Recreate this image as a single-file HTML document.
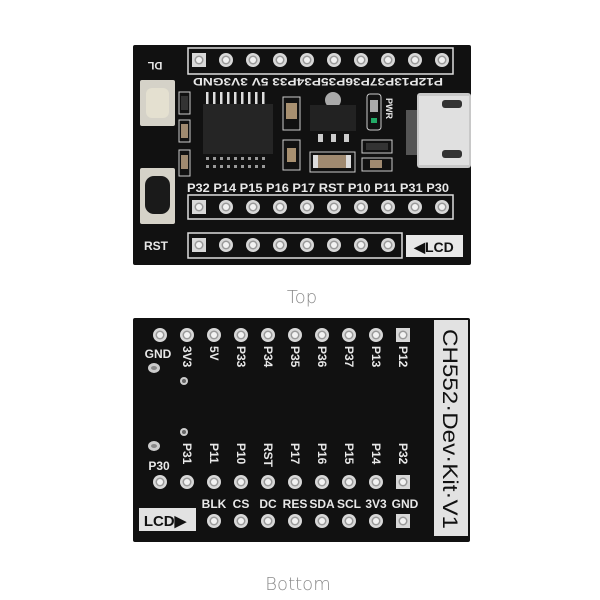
<!DOCTYPE html>
<html><head><meta charset="utf-8"><style>
html,body{margin:0;padding:0;background:#fff;width:600px;height:600px;overflow:hidden}
svg{display:block}
.s{font-family:"Liberation Sans",sans-serif;font-weight:bold;fill:#e8e8e8}
</style></head><body>
<svg width="600" height="600" viewBox="0 0 600 600" xmlns="http://www.w3.org/2000/svg">
<defs>
<g id="pad"><circle r="7" fill="#d8d8d8"/><circle r="4.5" fill="#9a9a9a"/><circle r="3" fill="#f2f2f2"/></g>
<g id="sq"><rect x="-7" y="-7" width="14" height="14" fill="#d8d8d8"/><circle r="4.5" fill="#9a9a9a"/><circle r="3" fill="#f2f2f2"/></g>
</defs>
<!-- TOP BOARD -->
<rect x="133" y="45" width="338" height="220" rx="2" fill="#111"/>
<rect x="188" y="48" width="265" height="26" fill="none" stroke="#ddd" stroke-width="1.5"/>
<rect x="188" y="195" width="265" height="24" fill="none" stroke="#ddd" stroke-width="1.5"/>
<rect x="188" y="233" width="214" height="25" fill="none" stroke="#ddd" stroke-width="1.5"/>
<rect x="406" y="235" width="57" height="22" fill="#e8e8e8"/>
<text x="434" y="252" text-anchor="middle" class="s" style="fill:#111;font-size:14px">◀LCD</text>
<use href="#sq" x="199" y="60"/>
<use href="#pad" x="226" y="60"/><use href="#pad" x="253" y="60"/><use href="#pad" x="280" y="60"/><use href="#pad" x="307" y="60"/><use href="#pad" x="334" y="60"/><use href="#pad" x="361" y="60"/><use href="#pad" x="388" y="60"/><use href="#pad" x="415" y="60"/><use href="#pad" x="442" y="60"/>
<use href="#sq" x="199" y="207"/>
<use href="#pad" x="226" y="207"/><use href="#pad" x="253" y="207"/><use href="#pad" x="280" y="207"/><use href="#pad" x="307" y="207"/><use href="#pad" x="334" y="207"/><use href="#pad" x="361" y="207"/><use href="#pad" x="388" y="207"/><use href="#pad" x="415" y="207"/><use href="#pad" x="442" y="207"/>
<use href="#sq" x="199" y="245"/>
<use href="#pad" x="226" y="245"/><use href="#pad" x="253" y="245"/><use href="#pad" x="280" y="245"/><use href="#pad" x="307" y="245"/><use href="#pad" x="334" y="245"/><use href="#pad" x="361" y="245"/><use href="#pad" x="388" y="245"/>
<text class="s" transform="translate(318,78) rotate(180)" text-anchor="middle" style="font-size:11px" textLength="250" lengthAdjust="spacingAndGlyphs">P12P13P37P36P35P34P33  5V 3V3GND</text>
<text x="318" y="192" class="s" text-anchor="middle" style="font-size:11.5px" textLength="262" lengthAdjust="spacingAndGlyphs">P32 P14 P15 P16 P17 RST P10 P11 P31 P30</text>
<text class="s" transform="translate(155,62) rotate(180)" text-anchor="middle" style="font-size:11px">DL</text>
<text x="156" y="250" class="s" text-anchor="middle" style="font-size:12px">RST</text>
<!-- buttons -->
<rect x="140" y="80" width="35" height="46" rx="2" fill="#d5d2c8"/>
<rect x="146" y="88" width="23" height="30" rx="6" fill="#e4e0d0"/>
<rect x="140" y="168" width="35" height="56" rx="2" fill="#d5d2c8"/>
<rect x="145" y="176" width="25" height="38" rx="9" fill="#1a1a1a"/>
<!-- small caps left -->
<rect x="179" y="92" width="11" height="22" fill="none" stroke="#ccc"/><rect x="181" y="96" width="7" height="14" fill="#333"/>
<rect x="179" y="120" width="11" height="22" fill="none" stroke="#ccc"/><rect x="181" y="124" width="7" height="14" fill="#a08a70"/>
<rect x="179" y="150" width="11" height="26" fill="none" stroke="#ccc"/><rect x="181" y="155" width="7" height="14" fill="#a08a70"/>
<!-- chip -->
<g fill="#ddd"><rect x="206" y="92" width="2.5" height="14"/><rect x="213" y="92" width="2.5" height="14"/><rect x="220" y="92" width="2.5" height="14"/><rect x="227" y="92" width="2.5" height="14"/><rect x="234" y="92" width="2.5" height="14"/><rect x="241" y="92" width="2.5" height="14"/><rect x="248" y="92" width="2.5" height="14"/><rect x="255" y="92" width="2.5" height="14"/><rect x="262" y="92" width="2.5" height="14"/></g>
<rect x="203" y="104" width="70" height="50" fill="#252525"/>
<g fill="#999"><rect x="206" y="157" width="3" height="3"/><rect x="213" y="157" width="3" height="3"/><rect x="220" y="157" width="3" height="3"/><rect x="227" y="157" width="3" height="3"/><rect x="234" y="157" width="3" height="3"/><rect x="241" y="157" width="3" height="3"/><rect x="248" y="157" width="3" height="3"/><rect x="255" y="157" width="3" height="3"/><rect x="262" y="157" width="3" height="3"/>
<rect x="206" y="165" width="3" height="3"/><rect x="213" y="165" width="3" height="3"/><rect x="220" y="165" width="3" height="3"/><rect x="227" y="165" width="3" height="3"/><rect x="234" y="165" width="3" height="3"/><rect x="241" y="165" width="3" height="3"/><rect x="248" y="165" width="3" height="3"/><rect x="255" y="165" width="3" height="3"/><rect x="262" y="165" width="3" height="3"/></g>
<!-- caps middle -->
<rect x="283" y="97" width="17" height="33" fill="none" stroke="#ccc"/><rect x="286" y="103" width="11" height="16" fill="#a89070"/>
<rect x="283" y="140" width="17" height="30" fill="none" stroke="#ccc"/><rect x="287" y="148" width="9" height="14" fill="#a89070"/>
<!-- regulator -->
<circle cx="333" cy="100" r="8" fill="#aaa"/>
<rect x="310" y="105" width="46" height="26" fill="#222"/>
<rect x="318" y="134" width="5" height="8" fill="#ccc"/><rect x="331" y="134" width="5" height="8" fill="#ccc"/><rect x="344" y="134" width="5" height="8" fill="#ccc"/>
<rect x="310" y="152" width="45" height="20" fill="none" stroke="#ccc"/><rect x="318" y="155" width="28" height="13" fill="#a08a70"/><rect x="313" y="155" width="5" height="13" fill="#ddd"/><rect x="346" y="155" width="5" height="13" fill="#ddd"/>
<!-- LED -->
<rect x="367" y="94" width="14" height="36" rx="3" fill="none" stroke="#ccc"/><rect x="370" y="100" width="8" height="12" fill="#aaa"/><rect x="371" y="118" width="6" height="5" fill="#2a6"/>
<text class="s" transform="translate(386,98) rotate(90)" style="font-size:9px">PWR</text>
<rect x="362" y="140" width="30" height="13" fill="none" stroke="#ccc"/><rect x="366" y="143" width="22" height="7" fill="#333"/>
<rect x="362" y="158" width="30" height="13" fill="none" stroke="#ccc"/><rect x="370" y="160" width="12" height="8" fill="#a08a70"/>
<!-- USB -->
<rect x="406" y="110" width="12" height="45" fill="#555"/>
<rect x="417" y="93" width="54" height="75" rx="3" fill="#c8c8c8"/>
<rect x="419" y="96" width="50" height="69" fill="#e0e0e0"/>
<rect x="442" y="100" width="20" height="8" rx="3" fill="#333"/>
<rect x="442" y="150" width="20" height="8" rx="3" fill="#333"/>

<text x="302" y="303" text-anchor="middle" style="font-family:'DejaVu Sans','Liberation Sans',sans-serif;font-size:18px;fill:#8a8a8a;font-weight:300">Top</text>

<!-- BOTTOM BOARD -->
<rect x="133" y="318" width="337" height="224" rx="2" fill="#111"/>
<rect x="434" y="320" width="34" height="216" fill="#e2e2e2"/>
<text class="s" transform="translate(443,429) rotate(90)" text-anchor="middle" style="font-size:21px;fill:#111;font-weight:normal" textLength="200" lengthAdjust="spacingAndGlyphs">CH552·Dev·Kit·V1</text>
<rect x="139" y="508" width="57" height="23" fill="#e2e2e2"/>
<text x="165" y="526" text-anchor="middle" class="s" style="font-size:15px;fill:#111">LCD▶</text>
<use href="#pad" x="160" y="335"/><use href="#pad" x="187" y="335"/><use href="#pad" x="214" y="335"/><use href="#pad" x="241" y="335"/><use href="#pad" x="268" y="335"/><use href="#pad" x="295" y="335"/><use href="#pad" x="322" y="335"/><use href="#pad" x="349" y="335"/><use href="#pad" x="376" y="335"/><use href="#sq" x="403" y="335"/>
<use href="#pad" x="160" y="482"/><use href="#pad" x="187" y="482"/><use href="#pad" x="214" y="482"/><use href="#pad" x="241" y="482"/><use href="#pad" x="268" y="482"/><use href="#pad" x="295" y="482"/><use href="#pad" x="322" y="482"/><use href="#pad" x="349" y="482"/><use href="#pad" x="376" y="482"/><use href="#sq" x="403" y="482"/>
<use href="#pad" x="214" y="521"/><use href="#pad" x="241" y="521"/><use href="#pad" x="268" y="521"/><use href="#pad" x="295" y="521"/><use href="#pad" x="322" y="521"/><use href="#pad" x="349" y="521"/><use href="#pad" x="376" y="521"/><use href="#sq" x="403" y="521"/>
<g class="s" style="font-size:12px">
<text x="158" y="358" text-anchor="middle">GND</text>
<text transform="translate(183,346) rotate(90)">3V3</text>
<text transform="translate(210,346) rotate(90)">5V</text>
<text transform="translate(237,346) rotate(90)">P33</text>
<text transform="translate(264,346) rotate(90)">P34</text>
<text transform="translate(291,346) rotate(90)">P35</text>
<text transform="translate(318,346) rotate(90)">P36</text>
<text transform="translate(345,346) rotate(90)">P37</text>
<text transform="translate(372,346) rotate(90)">P13</text>
<text transform="translate(399,346) rotate(90)">P12</text>
<text x="159" y="470" text-anchor="middle">P30</text>
<text transform="translate(183,443) rotate(90)">P31</text>
<text transform="translate(210,443) rotate(90)">P11</text>
<text transform="translate(237,443) rotate(90)">P10</text>
<text transform="translate(264,443) rotate(90)">RST</text>
<text transform="translate(291,443) rotate(90)">P17</text>
<text transform="translate(318,443) rotate(90)">P16</text>
<text transform="translate(345,443) rotate(90)">P15</text>
<text transform="translate(372,443) rotate(90)">P14</text>
<text transform="translate(399,443) rotate(90)">P32</text>
<text x="214" y="508" text-anchor="middle">BLK</text>
<text x="241" y="508" text-anchor="middle">CS</text>
<text x="268" y="508" text-anchor="middle">DC</text>
<text x="295" y="508" text-anchor="middle">RES</text>
<text x="322" y="508" text-anchor="middle">SDA</text>
<text x="349" y="508" text-anchor="middle">SCL</text>
<text x="376" y="508" text-anchor="middle">3V3</text>
<text x="405" y="508" text-anchor="middle">GND</text>
</g>
<ellipse cx="154" cy="368" rx="6" ry="5" fill="#ccc"/><ellipse cx="154" cy="368" rx="3" ry="2" fill="#888"/>
<circle cx="184" cy="381" r="4" fill="#ccc"/><circle cx="184" cy="381" r="2" fill="#666"/>
<ellipse cx="154" cy="446" rx="6" ry="5" fill="#ccc"/><ellipse cx="154" cy="446" rx="3" ry="2" fill="#888"/>
<circle cx="184" cy="432" r="4" fill="#ccc"/><circle cx="184" cy="432" r="2" fill="#666"/>

<text x="298" y="590" text-anchor="middle" style="font-family:'DejaVu Sans','Liberation Sans',sans-serif;font-size:18px;fill:#8a8a8a;font-weight:300">Bottom</text>
</svg>
</body></html>
